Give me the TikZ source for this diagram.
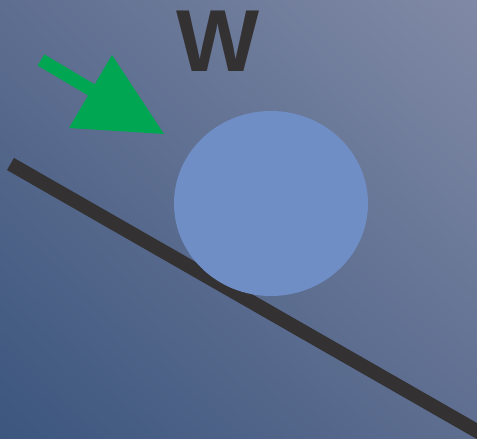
\documentclass[tikz,border=0pt]{standalone}
\usepackage{fontspec}
\setmainfont{Liberation Sans}
\usetikzlibrary{shadings}
\definecolor{bgll}{RGB}{60,86,126}
\definecolor{bgur}{RGB}{128,138,166}
\definecolor{bgmid}{RGB}{94,110,144}
\definecolor{ink}{RGB}{52,49,51}
\definecolor{ball}{RGB}{111,142,198}
\definecolor{force}{RGB}{0,166,81}
\begin{document}
\begin{tikzpicture}[x=1pt,y=-1pt]
\useasboundingbox (0,0) rectangle (477,439);
\shade[lower left=bgll, upper right=bgur, upper left=bgmid, lower right=bgmid] (0,0) rectangle (477,439);
% incline
\coordinate (s1) at (10.5,164);
\coordinate (s2) at (490,438.5);
\draw[ink, line width=14pt] (s1) -- (s2);
% ball
\fill[ball] (271,203.5) ellipse [x radius=97, y radius=92.5];
% force arrow
\coordinate (a0) at (41,60);
\coordinate (a1) at (100,95);
\draw[force, line width=13pt] (a0) -- (a1);
\fill[force] (112,55) -- (164,134) -- (69,128) -- cycle;
% label
\node[anchor=base, text=ink, font=\fontsize{88}{88}\selectfont\bfseries, inner sep=0pt] (w) at (218,71) {W};
\end{tikzpicture}
\end{document}
